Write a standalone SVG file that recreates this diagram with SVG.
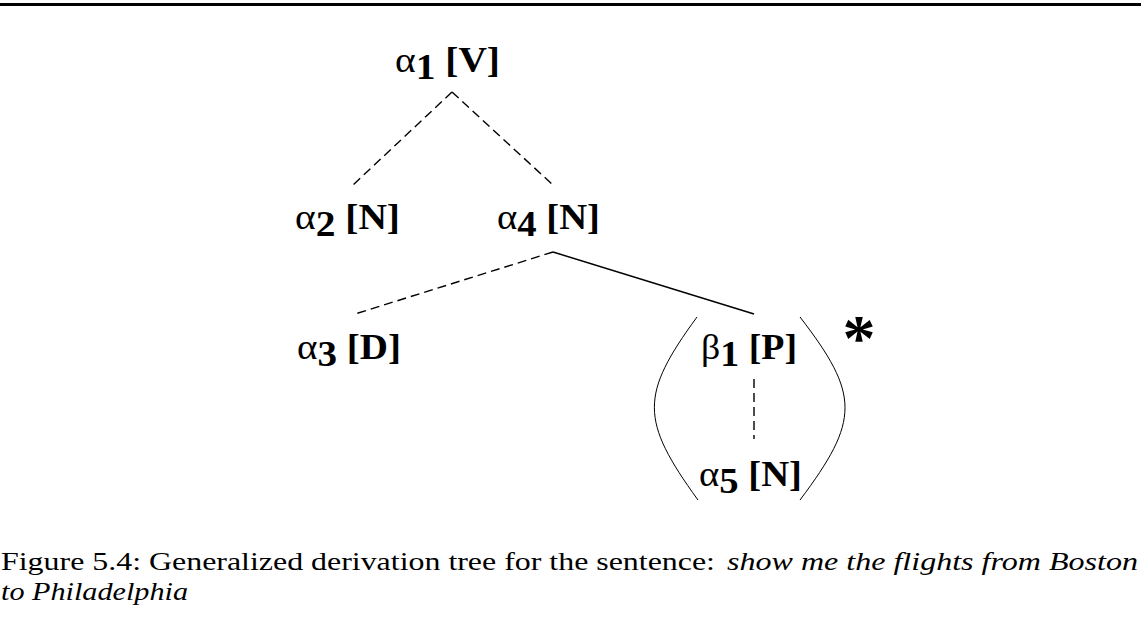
<svg xmlns="http://www.w3.org/2000/svg" width="1141" height="618" viewBox="0 0 1141 618">
<style>
.lbl{font-family:"Liberation Serif","Times New Roman",serif;font-size:36px;fill:#000}
.g{font-weight:normal}
.sub{font-weight:bold}
.b{font-weight:bold}
.dash{stroke:#000;stroke-width:1.4;fill:none;stroke-dasharray:9 5}
.solid{stroke:#000;stroke-width:1.5;fill:none}
.paren{stroke:#000;stroke-width:1;fill:none}
.cap{font-family:"Liberation Serif","Times New Roman",serif;font-size:26px;fill:#000}
</style>
<rect x="0" y="3" width="1141" height="3" fill="#000"/>
<g id="connectors">
<line class="dash" x1="452" y1="92" x2="353" y2="185"/>
<line class="dash" x1="452" y1="92" x2="553" y2="185"/>
<line class="dash" x1="553" y1="252" x2="355" y2="314"/>
<line class="solid" x1="553" y1="252" x2="754" y2="314"/>
<line class="dash" x1="754" y1="379" x2="754" y2="439"/>
</g>
<g id="n-a1"><text class="lbl" x="395" y="72" textLength="105" lengthAdjust="spacingAndGlyphs"><tspan class="g">α</tspan><tspan class="sub" dy="7">1</tspan><tspan class="b" dy="-7"> [V]</tspan></text></g>
<g id="n-a2"><text class="lbl" x="295" y="229" textLength="105" lengthAdjust="spacingAndGlyphs"><tspan class="g">α</tspan><tspan class="sub" dy="7">2</tspan><tspan class="b" dy="-7"> [N]</tspan></text></g>
<g id="n-a4"><text class="lbl" x="497" y="229" textLength="103" lengthAdjust="spacingAndGlyphs"><tspan class="g">α</tspan><tspan class="sub" dy="7">4</tspan><tspan class="b" dy="-7"> [N]</tspan></text></g>
<g id="n-a3"><text class="lbl" x="297" y="359" textLength="104" lengthAdjust="spacingAndGlyphs"><tspan class="g">α</tspan><tspan class="sub" dy="7">3</tspan><tspan class="b" dy="-7"> [D]</tspan></text></g>
<g id="n-b1"><text class="lbl" x="701" y="359" textLength="96" lengthAdjust="spacingAndGlyphs"><tspan class="g">β</tspan><tspan class="sub" dy="7">1</tspan><tspan class="b" dy="-7"> [P]</tspan></text></g>
<g id="n-a5"><text class="lbl" x="699" y="486" textLength="103" lengthAdjust="spacingAndGlyphs"><tspan class="g">α</tspan><tspan class="sub" dy="7">5</tspan><tspan class="b" dy="-7"> [N]</tspan></text></g>
<g id="parens">
<path class="paren" d="M697,317 C640,395 640,420 698,500"/>
<path class="paren" d="M800,317 C860,395 860,420 800,500"/>
</g>
<g id="star"><text class="lbl" x="859" y="360" text-anchor="middle" style="font-size:66px;font-weight:bold">*</text></g>
<g id="caption">
<text class="cap" x="1" y="570" textLength="714" lengthAdjust="spacingAndGlyphs">Figure 5.4: Generalized derivation tree for the sentence:</text>
<text class="cap" x="727" y="570" textLength="411" lengthAdjust="spacingAndGlyphs" font-style="italic">show me the flights from Boston</text>
<text class="cap" x="1" y="600" textLength="187" lengthAdjust="spacingAndGlyphs" font-style="italic">to Philadelphia</text>
</g>
</svg>
